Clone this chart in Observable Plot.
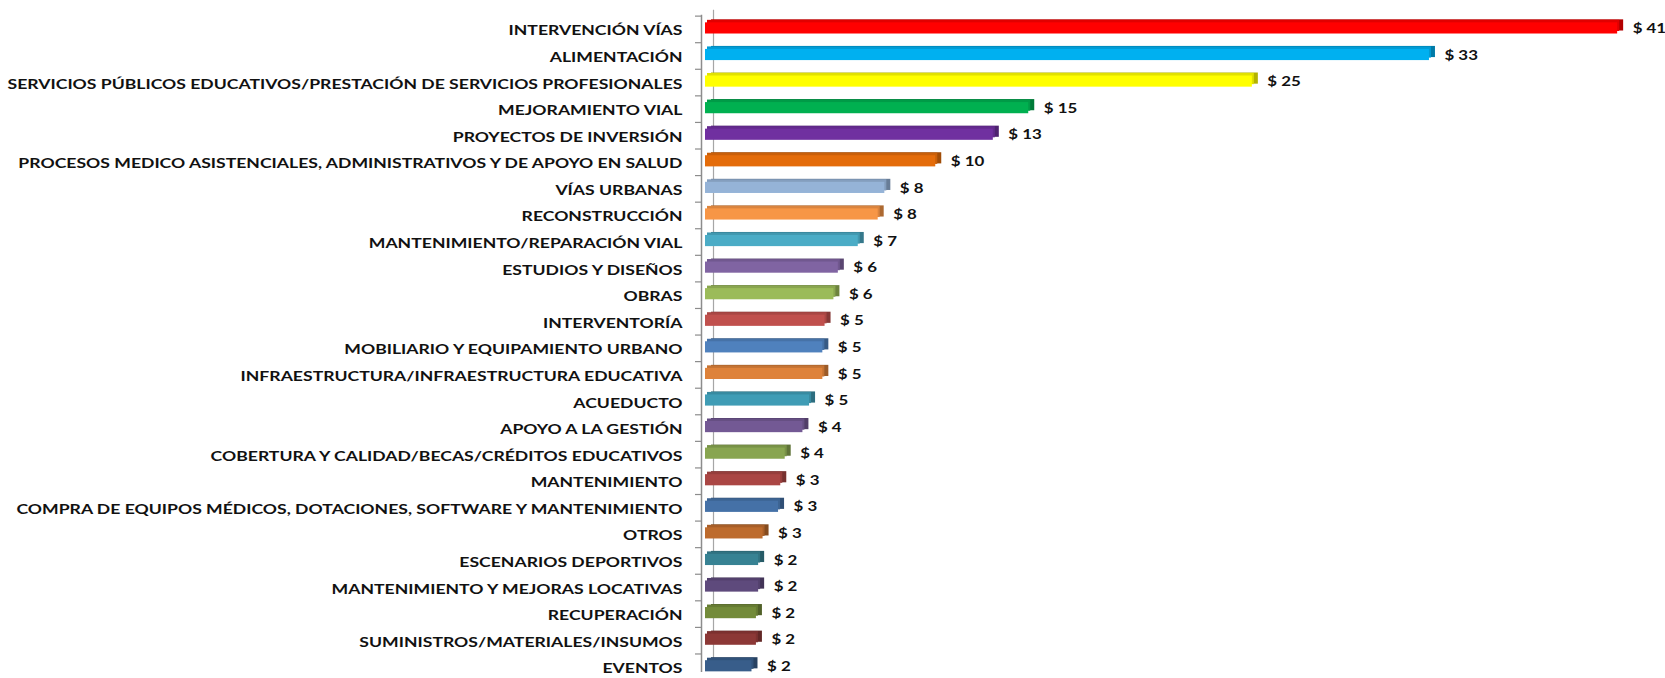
<!DOCTYPE html>
<html>
<head>
<meta charset="utf-8">
<script src="https://cdn.jsdelivr.net/npm/d3@7"></script>
<script src="https://cdn.jsdelivr.net/npm/@observablehq/plot@0.6"></script>
<style>
  body { margin: 0; background: #fff; }
  svg { display: block; }
</style>
</head>
<body>
<div id="chart"></div>
<script>
const categories = [
  "INTERVENCIÓN VÍAS",
  "ALIMENTACIÓN",
  "SERVICIOS PÚBLICOS EDUCATIVOS/PRESTACIÓN DE SERVICIOS PROFESIONALES",
  "MEJORAMIENTO VIAL",
  "PROYECTOS DE INVERSIÓN",
  "PROCESOS MEDICO ASISTENCIALES, ADMINISTRATIVOS Y DE APOYO EN SALUD",
  "VÍAS URBANAS",
  "RECONSTRUCCIÓN",
  "MANTENIMIENTO/REPARACIÓN VIAL",
  "ESTUDIOS Y DISEÑOS",
  "OBRAS",
  "INTERVENTORÍA",
  "MOBILIARIO Y EQUIPAMIENTO URBANO",
  "INFRAESTRUCTURA/INFRAESTRUCTURA EDUCATIVA",
  "ACUEDUCTO",
  "APOYO A LA GESTIÓN",
  "COBERTURA Y CALIDAD/BECAS/CRÉDITOS EDUCATIVOS",
  "MANTENIMIENTO",
  "COMPRA DE EQUIPOS MÉDICOS, DOTACIONES, SOFTWARE Y MANTENIMIENTO",
  "OTROS",
  "ESCENARIOS DEPORTIVOS",
  "MANTENIMIENTO Y MEJORAS LOCATIVAS",
  "RECUPERACIÓN",
  "SUMINISTROS/MATERIALES/INSUMOS",
  "EVENTOS"
];

const values = [
  41.2, 32.7, 24.7, 14.6, 13.0, 10.4, 8.1, 7.8, 6.9, 6.0,
  5.8, 5.4, 5.3, 5.3, 4.7, 4.4, 3.6, 3.4, 3.3, 2.6,
  2.4, 2.4, 2.3, 2.3, 2.1
];

const valueLabels = values.map(v => "$ " + Math.round(v));

const colors = [
  "#FF0000", "#00B0F0", "#FFFF00", "#00B050", "#7030A0",
  "#E46C0A", "#95B3D7", "#F79646", "#4BACC6", "#8064A2",
  "#9BBB59", "#C0504D", "#4F81BD", "#DE823A", "#3F9CB5",
  "#735994", "#88A550", "#AA4644", "#4571A7", "#BD6B2D",
  "#378293", "#5E4A7C", "#738B3A", "#8C3836", "#385D8A"
];

const data = categories.map((c, i) => ({
  cat: c,
  value: values[i],
  label: valueLabels[i],
  front: colors[i],
  top: d3.color(colors[i]).darker(0.35).formatHex(),
  side: d3.color(colors[i]).darker(1.0).formatHex()
}));

const font = "Lato, 'Open Sans', sans-serif";

const chart = Plot.plot({
  width: 1665,
  height: 678,
  marginLeft: 705,
  marginRight: 8,
  marginTop: 15.7,
  marginBottom: 0,
  x: { domain: [0, 43], axis: null },
  y: { domain: categories, paddingInner: 0.58, paddingOuter: 0.25, round: false, axis: null },
  color: { type: "identity" },
  style: { background: "#fff" },
  marks: [
    // back wall line
    Plot.ruleX([0], { dx: 8, dy: -6, insetBottom: 2, stroke: "#a6a6a6", strokeWidth: 1.2 }),
    // 3D extrusion (side face)
    Plot.barX(data, { y: "cat", x: "value", fill: "side", dx: 6, dy: -3 }),
    // 3D extrusion (top face)
    Plot.barX(data, { y: "cat", x: "value", fill: "top", dx: 2, dy: -2.5 }),
    // front face
    Plot.barX(data, { y: "cat", x: "value", fill: "front" }),
    // front wall line
    Plot.ruleX([0], { dx: -4, insetTop: -1, insetBottom: 6, stroke: "#8c8c8c", strokeWidth: 1.5 }),
    // category boundary ticks
    Plot.ruleY(categories, { y: d => d, x1: 0, x2: 0, insetLeft: -10, insetRight: 4, dy: -12.3, stroke: "#8c8c8c", strokeWidth: 1.2 }),
    // value labels
    Plot.text(data, {
      y: "cat", x: "value", text: "label",
      textAnchor: "start", dx: 15, dy: 0.5,
      fontFamily: font, fontWeight: "bold", fontSize: 13, fill: "#111",
      className: "vlabel"
    }),
    // category labels
    Plot.text(data, {
      y: "cat", x: 0, text: "cat",
      textAnchor: "end", dx: -23, dy: 3,
      fontFamily: font, fontWeight: "bold", fontSize: 12.5, fill: "#111",
      className: "clabel"
    })
  ]
});

// Horizontal stretch of text glyphs (the reference text is wide)
function stretch(sel, s) {
  sel.each(function () {
    const t = this.getAttribute("transform") || "";
    const x = +this.getAttribute("x") || 0;
    this.setAttribute("transform", `${t} translate(${x},0) scale(${s},1) translate(${-x},0)`);
  });
}
const svg = d3.select(chart);
const v = svg.selectAll(".vlabel text");
const c = svg.selectAll(".clabel text");
if (v.size() && c.size()) {
  stretch(v, 1.3);
  stretch(c, 1.41);
} else {
  stretch(svg.selectAll("text"), 1.38);
}

document.getElementById("chart").appendChild(chart);
</script>
</body>
</html>
